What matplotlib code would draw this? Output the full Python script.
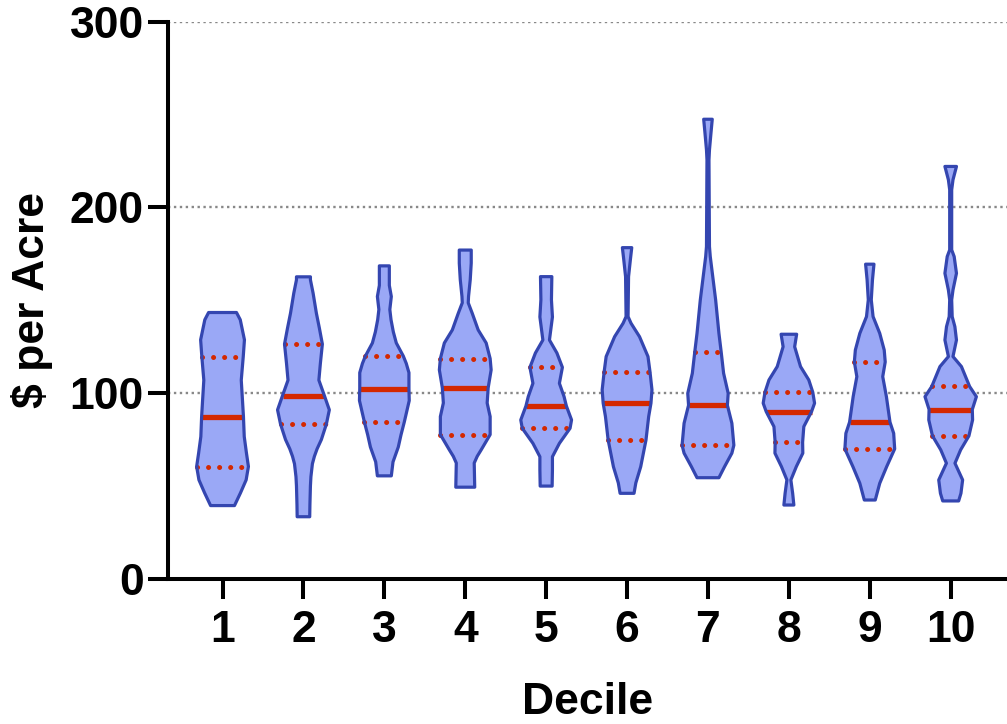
import numpy as np
import matplotlib.pyplot as plt

plt.rcParams['font.family'] = ['Liberation Sans', 'DejaVu Sans']
plt.rcParams['font.weight'] = 'bold'

# deciles on the x axis
deciles = [1, 2, 3, 4, 5, 6, 7, 8, 9, 10]
tick_labels = ['1', '2', '3', '4', '5', '6', '7', '8', '9', '10']

# violin outlines: $ per acre levels and relative density at each level
d1_levels = [39.5, 46.3, 53.3, 60.5, 67.8, 76.6, 87.4, 96.4, 107, 119.7, 128.7, 139.5, 143.4]
d1_density = [12, 18, 23.7, 26, 24, 21.8, 21, 20, 18.8, 20.8, 22, 17.8, 14]

d2_levels = [33.5, 40, 50, 55, 62, 66, 70, 75, 83.3, 91, 98.7, 107, 116, 126.4, 135, 143, 153.8, 161, 162.6]
d2_density = [6.3, 6.5, 7, 7.5, 9, 11, 13.7, 18, 23, 26, 21, 15.5, 17, 19, 16, 13, 9.7, 7, 7]

d3_levels = [55.5, 63, 71, 77.5, 84.4, 96, 102.5, 111, 116, 120, 127, 133, 139.5, 145, 152, 158, 168.5]
d3_density = [7, 8.7, 14, 16.7, 20, 25, 24.7, 24.7, 22, 19, 12, 9, 6.7, 5.5, 7, 5, 5]

d4_levels = [49.4, 62.4, 66, 69.5, 77.7, 87.4, 94.7, 102.8, 112.5, 118.6, 127, 134, 143, 148.6, 152, 161, 170, 177]
d4_density = [9.5, 9, 12, 16, 25, 25, 22, 23, 26, 25, 21, 13, 7, 3, 3.3, 5, 6, 6]

d5_levels = [50, 58.7, 65.8, 73, 81.1, 85.6, 93.1, 98.1, 105.3, 113.9, 121.6, 128.6, 141, 150.2, 162.7]
d5_density = [6, 6.3, 6.3, 13.3, 24, 25.5, 20.3, 18, 13.3, 16.3, 10.8, 3.3, 6.3, 5.3, 5.7]

d6_levels = [46.1, 51.7, 60.4, 74.8, 87.4, 94.6, 101.8, 111.6, 119.7, 130.4, 137.6, 141.2, 162.7, 171.7, 178.3]
d6_density = [7, 8.8, 13.7, 19, 21.7, 24, 25, 23, 21, 12.5, 4, 1, 1.5, 3.3, 4.7]

d7_levels = [54.5, 60.5, 67.7, 72, 83.8, 93.5, 99.9, 110.7, 122, 132.2, 150.2, 173.5, 178.9, 225.5, 230.9, 239.9, 247.4]
d7_density = [11, 16.7, 24, 26, 24, 19.5, 20.3, 15.7, 13.3, 11, 7.7, 2.3, 1.5, 1, 1.5, 3, 4.3]

d8_levels = [39.8, 46.1, 53.3, 60.5, 67.7, 73.6, 82, 90.1, 94.6, 100.5, 107.1, 114.3, 125, 131.7]
d8_density = [5, 3.8, 2, 7.5, 14, 13.8, 15, 22.8, 25.8, 24, 20, 11.7, 5.8, 7.8]

d9_levels = [42.5, 51.5, 60.5, 70, 78.4, 84.4, 98.1, 108.9, 116.8, 123.2, 132.2, 141.2, 150.2, 161, 169.4]
d9_density = [5.5, 10, 17, 25, 24, 20.3, 16.7, 13, 15.5, 14.5, 10, 3.3, 1.5, 2.7, 4.2]

d10_levels = [42, 46.1, 53.3, 62.3, 69.5, 77, 85.6, 91.2, 98.1, 103.6, 114.3, 119.7, 128.6, 135.8,
              141.2, 150.2, 155.5, 164.5, 173.5, 177.1, 209.4, 214.8, 222]
d10_density = [8, 10.3, 12, 4.3, 10, 18.3, 22, 21.7, 25.8, 19, 10.8, 2.3, 5.8, 4.2,
               1.5, 1, 2.3, 5.8, 3.5, 1, 1, 2.3, 5.8]

# median and quartiles per decile
medians = [87.4, 98.7, 102.5, 102.8, 93.1, 94.6, 93.5, 90.1, 84.4, 91.2]
q1 = [60.5, 83.3, 84.4, 77.7, 81.1, 74.8, 72, 73.6, 70, 77]
q3 = [119.7, 126.4, 120, 118.6, 113.9, 111.6, 122, 100.5, 116.8, 103.6]

levels = [d1_levels, d2_levels, d3_levels, d4_levels, d5_levels,
          d6_levels, d7_levels, d8_levels, d9_levels, d10_levels]
densities = [d1_density, d2_density, d3_density, d4_density, d5_density,
             d6_density, d7_density, d8_density, d9_density, d10_density]

fill_color = '#9aa8f6'
edge_color = '#3446b0'
red = '#d42800'

fig = plt.figure(figsize=(10.07, 7.24), dpi=100)
ax = fig.add_axes([0.167, 0.2003, 0.833, 0.77])

# widest violin spans about 0.32 of a category on each side
scale = 0.32 / 26

for x, lv, dens, med, lo, hi in zip(deciles, levels, densities, medians, q1, q3):
    lv = np.array(lv)
    hw = np.array(dens) * scale
    xs = np.concatenate([x - hw, (x + hw)[::-1]])
    ys = np.concatenate([lv, lv[::-1]])
    ax.fill(xs, ys, color=fill_color, zorder=2, lw=0)

    # median line across the violin
    w = np.interp(med, lv, hw)
    ax.plot([x - w, x + w], [med, med], color=red, lw=3.8, solid_capstyle='butt', zorder=3)
    # quartiles as dotted lines
    for q in (lo, hi):
        w = np.interp(q, lv, hw)
        ax.plot([x - w, x + w], [q, q], color=red, lw=3.6,
                linestyle=(0, (0.01, 2.2)), dash_capstyle='round', zorder=3)

    ax.fill(xs, ys, facecolor='none', edgecolor=edge_color, lw=2.3, zorder=4, joinstyle='round')

ax.set_xlim(0.328, 10.696)
ax.set_ylim(0, 300)
ax.set_xticks(deciles)
ax.set_xticklabels(tick_labels)
ax.set_yticks([0, 100, 200, 300])

ax.set_axisbelow(True)
ax.yaxis.grid(True, color='#888888', lw=1.7, linestyle=(0, (1, 1.5)))

for side in ['top', 'right']:
    ax.spines[side].set_visible(False)
for side in ['left', 'bottom']:
    ax.spines[side].set_linewidth(2.9)

ax.tick_params(axis='both', direction='out', length=14.5, width=2.9, labelsize=32)
ax.tick_params(axis='x', pad=8)
ax.tick_params(axis='y', pad=3)

ax.set_xlabel('Decile', fontsize=32, fontweight='bold', labelpad=22)
ax.set_ylabel('$ per Acre', fontsize=32, fontweight='bold', labelpad=12)

plt.savefig('out.png', dpi=100)
